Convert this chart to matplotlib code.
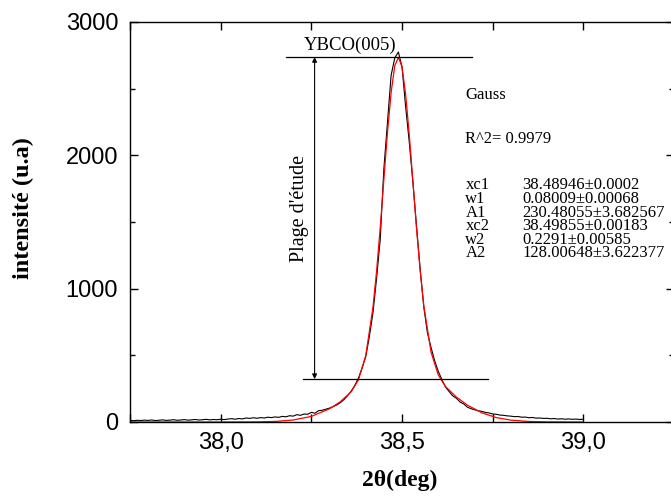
import numpy as np
import matplotlib.pyplot as plt
from matplotlib.ticker import FuncFormatter

# 2theta grid of the scan (step 0.01 deg)
two_theta = np.round(np.arange(37.75, 39.0001, 0.01), 2)

intensity = [
    12, 10, 13, 11, 14, 12, 15, 11, 13, 16, 12, 14, 17, 13, 15, 18, 14, 16, 19, 15, 17, 20, 16, 19, 17,
    21, 18, 22, 25, 21, 26, 23, 30, 27, 32, 28, 33, 30, 36, 33, 38, 35, 42, 39, 47,
    44, 55, 50, 60, 58, 72, 66, 85, 88, 96, 104, 115, 128, 145, 168, 198, 232, 275, 330, 405,
    490, 640, 820, 1080, 1370, 1900, 2250, 2600, 2730, 2775, 2665, 2365, 2100, 1800, 1470, 1150, 865, 670, 560, 460,
    380, 318, 262, 228, 196, 178, 150, 136, 112, 100, 92, 84, 80, 72, 68, 60, 58, 52, 50, 46,
    44, 40, 41, 36, 37, 32, 34, 29, 30, 27, 28, 24, 26, 22, 24, 21, 23, 20, 22, 19, 21,
]

# Gauss fit curve (two components)
fit_x = [37.75, 38.0, 38.1, 38.15, 38.2, 38.25, 38.3, 38.33, 38.36, 38.38, 38.4, 38.42, 38.43,
         38.44, 38.45, 38.46, 38.47, 38.48, 38.49, 38.5, 38.51, 38.52, 38.53, 38.54, 38.55,
         38.56, 38.58, 38.6, 38.62, 38.65, 38.68, 38.72, 38.76, 38.8, 38.85, 38.9, 39.0]
fit_y = [0, 0, 1, 4, 15, 42, 99, 152, 227, 316, 497, 862, 1134,
         1461, 1819, 2172, 2471, 2672, 2735, 2664, 2458, 2156, 1806, 1454, 1137,
         874, 525, 352, 266, 187, 127, 69, 33, 14, 4, 1, 0]

fit_names = ['xc1', 'w1', 'A1', 'xc2', 'w2', 'A2']
fit_values = ['38.48946\u00b10.0002', '0.08009\u00b10.00068', '230.48055\u00b13.682567',
              '38.49855\u00b10.00183', '0.2291\u00b10.00585', '128.00648\u00b13.622377']
fit_rows_y = [1777, 1672, 1567, 1470, 1365, 1267]

serif = 'Liberation Serif'
sans = 'Liberation Sans'

fig = plt.figure(figsize=(6.71, 4.97), dpi=100)
ax = fig.add_axes([130 / 671, 75 / 497, 544 / 671, 400 / 497])

ax.plot(two_theta, intensity, color='black', lw=0.8)
ax.plot(fit_x, fit_y, color='red', lw=0.9)

ax.set_xlim(37.75, 39.25)
ax.set_ylim(0, 3000)
ax.set_xticks([38.0, 38.5, 39.0])
ax.set_xticks([37.75, 38.25, 38.75, 39.25], minor=True)
ax.set_yticks([0, 1000, 2000, 3000])
ax.set_yticks([500, 1500, 2500], minor=True)
ax.xaxis.set_major_formatter(FuncFormatter(lambda v, p: ('%.1f' % v).replace('.', ',')))

ax.tick_params(axis='both', which='both', direction='in', top=True, right=True, width=1.0)
ax.tick_params(axis='x', which='both', length=5.8, pad=7)
ax.tick_params(axis='y', which='major', length=5.8, pad=8.5)
ax.tick_params(axis='y', which='minor', length=3.6)
for lab in ax.get_xticklabels() + ax.get_yticklabels():
    lab.set_fontfamily(sans)
    lab.set_fontsize(17)
for sp in ax.spines.values():
    sp.set_linewidth(1.0)

ax.set_xlabel('2\u03b8(deg)', fontfamily=serif, fontweight='bold', fontsize=17, va='center')
ax.xaxis.set_label_coords(0.496, -0.145)
ax.set_ylabel('intensit\u00e9 (u.a)', fontfamily=serif, fontweight='bold', fontsize=17.5, va='center')
ax.yaxis.set_label_coords(-0.195, 0.535)

# study range markers
ax.plot([38.179, 38.694], [2737, 2737], color='black', lw=0.9)
ax.plot([38.226, 38.738], [322, 322], color='black', lw=0.9)
ax.annotate('', xy=(38.259, 2737), xytext=(38.259, 322),
            arrowprops=dict(arrowstyle='<|-|>', color='black', lw=0.8, mutation_scale=7,
                            shrinkA=0, shrinkB=0))
ax.text(38.358, 2827, 'YBCO(005)', fontfamily=serif, fontsize=13.5, ha='center', va='center')
ax.text(38.217, 1600, "Plage d'\u00e9tude", fontfamily=serif, fontsize=14.5, rotation=90,
        ha='center', va='center')

# fit report
ax.text(38.675, 2452, 'Gauss', fontfamily=serif, fontsize=12, va='center')
ax.text(38.675, 2122, 'R^2= 0.9979', fontfamily=serif, fontsize=12, va='center')
for name, val, yy in zip(fit_names, fit_values, fit_rows_y):
    ax.text(38.675, yy, name, fontfamily=serif, fontsize=12, va='center')
    ax.text(38.832, yy, val, fontfamily=serif, fontsize=12, va='center')

fig.savefig('out.png', dpi=100)
